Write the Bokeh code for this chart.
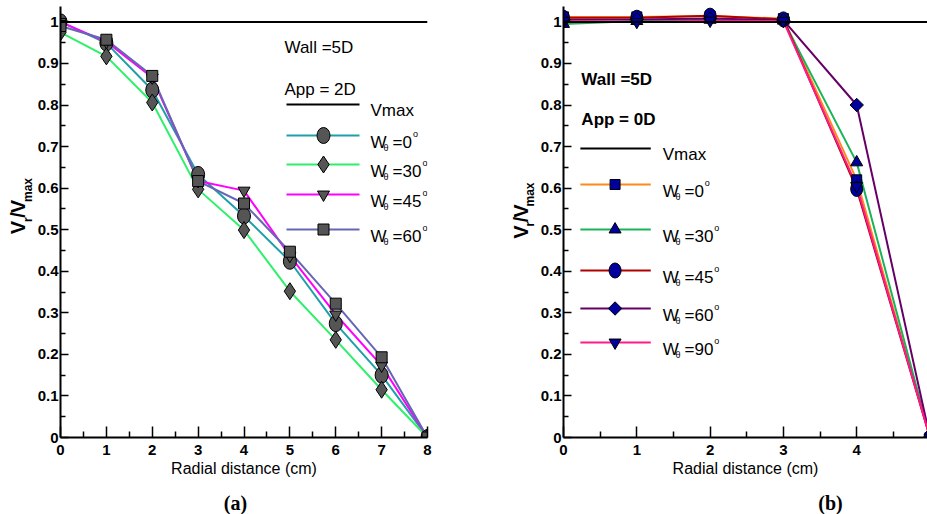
from math import pi

from bokeh.embed import file_html
from bokeh.layouts import column, row
from bokeh.models import CustomJSTickFormatter, FixedTicker, Label, Span
from bokeh.plotting import figure
from bokeh.resources import INLINE

# Radial positions (cm)
radial_a = [0, 1, 2, 3, 4, 5, 6, 7, 8]
radial_b = [0, 1, 2, 3, 4, 5]

# Panel (a): Wall = 5D, App = 2D  -- normalised velocity Vr/Vmax
a_w0 = [1.000, 0.949, 0.836, 0.633, 0.533, 0.424, 0.274, 0.150, 0.0]
a_w30 = [0.975, 0.917, 0.806, 0.597, 0.499, 0.352, 0.235, 0.115, 0.0]
a_w45 = [1.000, 0.952, 0.866, 0.617, 0.594, 0.437, 0.296, 0.173, 0.0]
a_w60 = [0.990, 0.957, 0.870, 0.617, 0.563, 0.447, 0.322, 0.193, 0.0]

# Panel (b): Wall = 5D, App = 0D
b_w0 = [1.012, 1.012, 1.014, 1.008, 0.620, 0.0]
b_w30 = [0.995, 1.002, 1.005, 1.003, 0.662, 0.0]
b_w45 = [1.010, 1.010, 1.015, 1.006, 0.598, 0.0]
b_w60 = [1.005, 1.006, 1.008, 1.004, 0.800, 0.0]
b_w90 = [1.002, 1.000, 1.003, 1.002, 0.605, 0.0]

vmax = 1.0
angles_a = ["0", "30", "45", "60"]
angles_b = ["0", "30", "45", "60", "90"]

y_ticks = [0, 0.1, 0.2, 0.3, 0.4, 0.5, 0.6, 0.7, 0.8, 0.9, 1.0]
y_minor = [0.05, 0.15, 0.25, 0.35, 0.45, 0.55, 0.65, 0.75, 0.85, 0.95]
x_ticks_a = [0, 1, 2, 3, 4, 5, 6, 7, 8]
x_minor_a = [0.5, 1.5, 2.5, 3.5, 4.5, 5.5, 6.5, 7.5]
x_ticks_b = [0, 1, 2, 3, 4, 5]
x_minor_b = [0.5, 1.5, 2.5, 3.5, 4.5]

FONT = "Liberation Sans"
W_TOTAL, H_TOTAL = 927, 514
H = 484            # height of the plotting row
CAP_H = H_TOTAL - H
TOP, BOTTOM = 6, 47
Y_END = 1.037
FRAME_H = H - TOP - BOTTOM


class PixelFrame:
    """Converts canvas pixel positions into a panel's data coordinates."""

    def __init__(self, left, x_per_unit):
        self.left = left
        self.sx = x_per_unit
        self.bottom = H - BOTTOM
        self.sy = FRAME_H / Y_END

    def x(self, px):
        return (px - self.left) / self.sx

    def y(self, py):
        return (self.bottom - py) / self.sy


class Identity:
    def x(self, px):
        return px

    def y(self, py):
        return py


def blank_canvas(width, height):
    """A figure whose frame fills the canvas, addressed in pixels (y downwards)."""
    c = figure(width=width, height=height, x_range=(0, width), y_range=(height, 0),
               output_backend="svg", toolbar_location=None,
               x_axis_location=None, y_axis_location=None,
               min_border=0, min_border_left=0, min_border_right=0,
               min_border_top=0, min_border_bottom=0)
    c.outline_line_color = None
    c.xgrid.grid_line_color = None
    c.ygrid.grid_line_color = None
    return c


def make_panel(width, border_left, border_right, x_end, x_ticks, x_minor):
    p = figure(width=width, height=H, x_range=(0, x_end), y_range=(0, Y_END),
               output_backend="svg", toolbar_location=None,
               min_border_left=border_left, min_border_right=border_right,
               min_border_top=TOP, min_border_bottom=BOTTOM)
    p.outline_line_color = None
    p.xgrid.grid_line_color = None
    p.ygrid.grid_line_color = None
    fmt = CustomJSTickFormatter(code="return (Math.round(tick * 10) / 10).toString();")

    p.xaxis.ticker = FixedTicker(ticks=x_ticks, minor_ticks=x_minor)
    p.yaxis.ticker = FixedTicker(ticks=y_ticks, minor_ticks=y_minor)
    p.xaxis.formatter = fmt
    p.yaxis.formatter = fmt
    for ax in (p.xaxis, p.yaxis):
        ax.axis_line_width = 2
        ax.axis_line_color = "black"
        ax.major_tick_out = 0
        ax.minor_tick_out = 0
        ax.major_tick_line_width = 1.5
        ax.minor_tick_line_width = 1.5
        ax.major_tick_line_color = "black"
        ax.minor_tick_line_color = "black"
        ax.major_label_text_font = FONT
        ax.major_label_text_font_size = "15px"
        ax.major_label_text_font_style = "bold"
        ax.major_label_text_color = "black"
    p.yaxis.major_label_standoff = 2
    p.xaxis.major_label_standoff = 7
    p.xaxis.major_tick_in = 11
    p.xaxis.minor_tick_in = 6
    p.yaxis.major_tick_in = 8
    p.yaxis.minor_tick_in = 5
    p.xaxis.axis_label = "Radial distance (cm)"
    p.xaxis.axis_label_text_font = FONT
    p.xaxis.axis_label_text_font_size = "16px"
    p.xaxis.axis_label_text_font_style = "normal"
    p.xaxis.axis_label_text_color = "black"
    p.xaxis.axis_label_standoff = 2
    p.yaxis.axis_label = None

    p.add_layout(Span(location=vmax, dimension="width", line_color="black", line_width=2))
    return p


def add_text(p, fr, px, py, text, size, style="normal", font=FONT, angle=0,
             align="left", baseline="alphabetic"):
    p.add_layout(Label(x=fr.x(px), y=fr.y(py), text=text, text_font=font,
                       text_font_size=f"{size}px", text_font_style=style,
                       text_align=align, text_baseline=baseline, angle=angle,
                       text_color="black"))


def draw_markers(p, xs, ys, marker, fill, size):
    if marker == "circle":
        p.ellipse(xs, ys, width=size[0], height=size[1], width_units="screen",
                  height_units="screen", fill_color=fill, line_color="black", line_width=1)
    elif marker == "rdiamond":
        p.scatter(xs, ys, marker="square", angle=pi / 4, size=size, fill_color=fill,
                  line_color="black", line_width=1)
    else:
        p.scatter(xs, ys, marker=marker, size=size, fill_color=fill,
                  line_color="black", line_width=1)


# pieces of the rotated y label: text, font size, advance along the text
YLABEL_PIECES = [("V", 20, 13.3, False), ("r", 12, 4.7, True), ("/", 20, 5.6, False),
                 ("V", 20, 13.3, False), ("max", 12, 24.0, True)]


def draw_ylabel(c, main_cx, sub_cx, start_py):
    # V_r / V_max written bottom-to-top, each piece placed by its centre
    fr = Identity()
    py = start_py
    for text, size, adv, is_sub in YLABEL_PIECES:
        cy = py - adv / 2
        add_text(c, fr, sub_cx if is_sub else main_cx, cy, text, size, "bold",
                 angle=pi / 2, align="center", baseline="middle")
        py -= adv


def draw_key(p, fr, x1, x2, xm, yc, color, marker, fill, size, text_px, angle_txt):
    p.line([fr.x(x1), fr.x(x2)], [fr.y(yc), fr.y(yc)], line_color=color, line_width=2)
    draw_markers(p, [fr.x(xm)], [fr.y(yc)], marker, fill, size)
    add_text(p, fr, text_px, yc + 7, "W", 17)
    add_text(p, fr, text_px + 13, yc + 12.5, "\u03b8", 9)
    add_text(p, fr, text_px + 22, yc + 7, "=" + angle_txt, 17)
    add_text(p, fr, text_px + 33 + 9.45 * len(angle_txt), yc - 1.7, "o", 9)


# ---------------- y-label strip for (a) ----------------
LAB_A_W = 34
lab_a = blank_canvas(LAB_A_W, H)
draw_ylabel(lab_a, 17, 27, 255)

# ---------------- panel (a) ----------------
X_END_A = 8
PA_W = 465 - LAB_A_W
pa = make_panel(PA_W, 60 - LAB_A_W, 38, X_END_A, x_ticks_a, x_minor_a)
fa = PixelFrame(60 - LAB_A_W, 367 / X_END_A)

grey = "#555555"
series_a = [
    (a_w0, "#1fa0a8", "circle", (13, 16)),
    (a_w30, "#2ef06a", "diamond", 17),
    (a_w45, "#ff00ff", "inverted_triangle", 12),
    (a_w60, "#6666b4", "square", 11),
]
for ys, color, marker, size in series_a:
    pa.line(radial_a, ys, line_color=color, line_width=2)
for ys, color, marker, size in series_a:
    draw_markers(pa, radial_a, ys, marker, grey, size)

ox = LAB_A_W
add_text(pa, fa, 284 - ox, 47, "Wall =5D", 17)
add_text(pa, fa, 284 - ox, 89, "App = 2D", 17)
pa.line([fa.x(286 - ox), fa.x(359 - ox)], [fa.y(104), fa.y(104)], line_color="black", line_width=2)
add_text(pa, fa, 370 - ox, 110, "Vmax", 17)
for (ys, color, marker, size), yc, ang in zip(series_a, [135, 164, 194, 229], angles_a):
    draw_key(pa, fa, 286 - ox, 359 - ox, 323 - ox, yc, color, marker, grey, size, 370 - ox, ang)

# ---------------- y-label strip for (b) ----------------
LAB_B_X, LAB_B_W = 465, 72
lab_b = blank_canvas(LAB_B_W, H)
draw_ylabel(lab_b, 520 - LAB_B_X, 529 - LAB_B_X, 260)

# ---------------- panel (b) ----------------
X_END_B = 4.966
PB_X = LAB_B_X + LAB_B_W
pb = make_panel(W_TOTAL - PB_X, 560 - PB_X, 0, X_END_B, x_ticks_b, x_minor_b)
fb = PixelFrame(560 - PB_X, 367 / X_END_B)

navy = "#00009f"
series_b = [
    (b_w0, "#ff8a1c", "square", 10),
    (b_w30, "#1ab35a", "triangle", 12),
    (b_w45, "#b00000", "circle", (12, 15)),
    (b_w60, "#660066", "rdiamond", 9.5),
    (b_w90, "#ff1a8c", "inverted_triangle", 12),
]
for ys, color, marker, size in series_b:
    pb.line(radial_b, ys, line_color=color, line_width=2)
for ys, color, marker, size in series_b:
    draw_markers(pb, radial_b, ys, marker, navy, size)

ob = PB_X
add_text(pb, fb, 578 - ob, 79, "Wall =5D", 17, "bold")
add_text(pb, fb, 578 - ob, 119, "App = 0D", 17, "bold")
pb.line([fb.x(577 - ob), fb.x(648 - ob)], [fb.y(148), fb.y(148)], line_color="black", line_width=2)
add_text(pb, fb, 660 - ob, 154, "Vmax", 17)
for (ys, color, marker, size), yc, ang in zip(series_b, [184, 229, 270, 308, 342], angles_b):
    draw_key(pb, fb, 577 - ob, 648 - ob, 612 - ob, yc, color, marker, navy, size, 660 - ob, ang)

# ---------------- panel captions ----------------
caption = blank_canvas(W_TOTAL, CAP_H)
ident = Identity()
add_text(caption, ident, 235, 18, "(a)", 20, "bold", font="Liberation Serif",
         align="center", baseline="middle")
add_text(caption, ident, 830, 18, "(b)", 20, "bold", font="Liberation Serif",
         align="center", baseline="middle")

layout = column(row(lab_a, pa, lab_b, pb), caption)
open("out.html", "w").write(file_html(layout, INLINE))
